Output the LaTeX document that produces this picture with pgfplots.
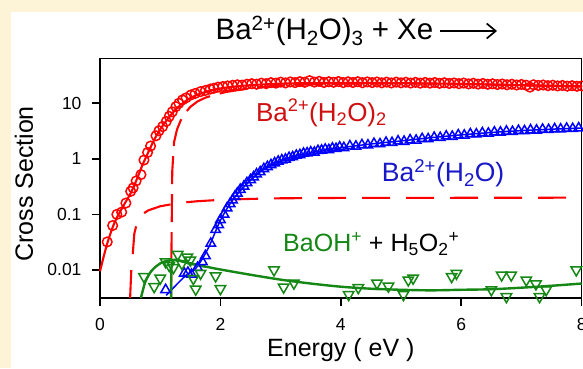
\documentclass[border=0pt]{standalone}
\usepackage{pgfplots}
\pgfplotsset{compat=1.18}
\usetikzlibrary{arrows.meta}
\usepackage{fontspec}
\setmainfont{Liberation Sans}
\definecolor{cream}{RGB}{253,243,214}
\definecolor{myred}{RGB}{255,0,0}
\definecolor{redtxt}{RGB}{208,16,16}
\definecolor{myblue}{RGB}{0,0,255}
\definecolor{bluetxt}{RGB}{24,24,200}
\definecolor{mygreen}{RGB}{20,135,20}
\newcommand{\sub}[1]{\textsubscript{#1}}
\newcommand{\sups}[1]{\textsuperscript{#1}}
\begin{document}
\begin{tikzpicture}[x=1pt,y=1pt]
\path[use as bounding box] (0,0) rectangle (583,368);
\fill[cream] (0,0) rectangle (583,368);
\fill[white] (11,0) rectangle (590,356);
\begin{axis}[at={(100pt,70pt)}, anchor=south west, scale only axis,
  width=481.7pt, height=239.7pt,
  xmin=0, xmax=8, ymode=log, ymin=0.00313, ymax=64.4,
  axis line style={line width=1.6pt},
  xtick={0,2,4,6,8}, ytick={0.01,0.1,1,10}, yticklabels={0.01,0.1,1,10},
  yminorticks=false, tick align=outside, tick pos=left, major tick length=8pt,
  every tick/.style={line width=1.6pt, black},
  ticklabel style={font=\fontsize{17.5}{20}\selectfont},
  xticklabel style={yshift=-9pt},
  yticklabel style={xshift=-7pt},
  /pgf/number format/assume math mode=true,
  xlabel={Energy ( eV )}, ylabel={Cross Section},
  label style={font=\fontsize{25}{29}\selectfont},
  xlabel style={at={(axis description cs:0.5,-0.246)}, anchor=base},
  ylabel style={at={(axis description cs:-0.158,0.476)}, anchor=center},
  title={Ba\sups{2+}(H\sub{2}O)\sub{3} + Xe},
  title style={font=\fontsize{29.5}{33}\selectfont, at={(axis description cs:0.466,1.0515)}, anchor=base, inner sep=0pt},
  clip=false,
]
% red dashed A
\addplot[myred, line width=2.1pt, dash pattern=on 28pt off 16pt] coordinates {
(0.50,0.00313) (0.52,0.01) (0.54,0.017) (0.57,0.045) (0.62,0.075) (0.70,0.10) (0.80,0.118) (1.0,0.14) (1.3,0.16) (1.6,0.172) (2.0,0.183) (2.5,0.19) (3.0,0.195) (4.0,0.198) (8.0,0.2)};
% red dashed B
\addplot[myred, line width=2.1pt, dash pattern=on 28pt off 10pt] coordinates {
(1.18,0.00313) (1.19,0.05) (1.20,0.6) (1.23,2.0) (1.28,3.4) (1.34,4.9) (1.42,6.8) (1.50,8.6) (1.62,10.8) (1.75,12.6) (1.9,14.2) (2.1,16.0) (2.4,18.0) (2.8,20.0) (3.3,21.5) (4.0,22.5) (5.0,22.8) (6.0,22.2) (7.0,21.0) (8.0,20.0)};
% red solid fit
\addplot[myred, line width=2.1pt, smooth] coordinates {
(0.0,0.0095) (0.12,0.03) (0.25,0.075) (0.4,0.15) (0.5,0.23) (0.6,0.4) (0.7,0.75) (0.8,1.3) (0.9,2.2) (1.0,3.4) (1.1,4.8) (1.2,6.6) (1.3,8.6) (1.45,11.5) (1.6,14.0) (1.8,16.6) (2.0,18.5) (2.3,20.3) (2.7,21.8) (3.2,22.8) (4.0,23.2) (5.0,23.0) (6.0,22.3) (7.0,21.2) (8.0,20.2)};
% red circles
\addplot[only marks, mark=o, mark size=4.8pt, myred, line width=1.5pt] coordinates {
(0.12,0.032) (0.21,0.063) (0.28,0.10) (0.36,0.11) (0.43,0.16) (0.51,0.26) (0.55,0.30) (0.60,0.40) (0.68,0.52) (0.73,0.95) (0.79,1.3) (0.84,1.7) (0.93,2.6) (0.98,3.2) (1.04,3.8) (1.10,4.7) (1.15,5.8) (1.20,7.0) (1.26,8.7) (1.31,10.0) (1.37,11.5) (1.43,12.5) (1.51,14.1) (1.58,15.0) (1.67,16.2) (1.75,17.0) (1.83,18.0) (1.89,18.6) (1.96,19.5) (2.04,20.0) (2.12,20.5) (2.20,21.0) (2.28,21.5) (2.36,21.2) (2.44,22.0) (2.52,22.5) (2.60,22.0) (2.68,23.0) (2.76,22.5) (2.84,23.5) (2.92,23.0) (3.00,24.0) (3.08,23.2) (3.16,24.2) (3.24,23.5) (3.32,24.5) (3.40,23.8) (3.48,25.5) (3.56,24.0) (3.64,24.8) (3.72,23.6) (3.80,24.4) (3.88,23.8) (3.96,24.6) (4.04,23.5) (4.12,24.3) (4.20,23.6) (4.28,24.4) (4.36,23.4) (4.44,24.2) (4.52,23.5) (4.60,24.1) (4.68,23.3) (4.76,24.0) (4.84,23.2) (4.92,24.0) (5.00,23.3) (5.08,23.9) (5.16,23.1) (5.24,23.8) (5.32,23.0) (5.40,23.7) (5.48,23.0) (5.56,23.6) (5.64,22.8) (5.72,23.4) (5.80,22.7) (5.88,23.2) (5.96,22.5) (6.04,23.1) (6.12,22.3) (6.20,22.9) (6.28,22.1) (6.36,22.7) (6.44,21.9) (6.52,22.4) (6.60,21.7) (6.68,22.2) (6.76,21.5) (6.84,22.0) (6.92,21.3) (7.00,21.8) (7.08,21.1) (7.14,19.5) (7.20,21.5) (7.28,20.9) (7.36,21.3) (7.44,20.7) (7.52,21.1) (7.60,20.5) (7.68,20.9) (7.76,20.3) (7.84,20.7) (7.92,20.2) (8.00,20.5)};
% blue fit
\addplot[myblue, line width=1.5pt, smooth] coordinates {
(1.10,0.0035) (1.4,0.0075) (1.6,0.011) (1.8,0.025) (2.0,0.078) (2.2,0.18) (2.4,0.32) (2.6,0.52) (2.8,0.74) (3.0,0.92) (3.3,1.15) (3.6,1.35) (4.0,1.58) (4.5,1.85) (5.0,2.1) (5.5,2.4) (6.0,2.7) (6.5,2.98) (7.0,3.22) (7.5,3.42) (8.0,3.58)};
% blue triangles
\addplot[only marks, mark=triangle, mark size=5.5pt, myblue, line width=1.5pt] coordinates {
(1.09,0.0044) (1.40,0.0087) (1.46,0.0090) (1.52,0.0083) (1.62,0.011) (1.70,0.014) (1.75,0.018) (1.84,0.030) (1.92,0.053) (1.97,0.065) (2.00,0.080) (2.06,0.10) (2.11,0.13) (2.16,0.155) (2.20,0.18) (2.24,0.21) (2.28,0.24) (2.33,0.28) (2.39,0.32) (2.44,0.37) (2.50,0.42) (2.55,0.47) (2.60,0.53) (2.66,0.58) (2.72,0.66) (2.78,0.72) (2.84,0.78) (2.90,0.84) (2.96,0.90) (3.02,0.95) (3.08,0.98) (3.14,1.05) (3.20,1.08) (3.26,1.15) (3.32,1.18) (3.38,1.25) (3.44,1.27) (3.50,1.32) (3.56,1.30) (3.62,1.40) (3.68,1.42) (3.74,1.48) (3.80,1.45) (3.86,1.55) (3.92,1.52) (3.98,1.62) (4.05,1.58) (4.15,1.70) (4.25,1.68) (4.35,1.78) (4.45,1.76) (4.55,1.88) (4.65,1.85) (4.75,1.97) (4.85,1.95) (4.95,2.08) (5.05,2.05) (5.15,2.18) (5.25,2.15) (5.35,2.30) (5.45,2.28) (5.55,2.42) (5.65,2.40) (5.75,2.55) (5.85,2.52) (5.95,2.68) (6.05,2.65) (6.15,2.80) (6.25,2.78) (6.35,2.92) (6.45,2.88) (6.55,3.02) (6.65,3.00) (6.75,3.12) (6.85,3.08) (6.95,3.22) (7.05,3.18) (7.15,3.30) (7.25,3.26) (7.35,3.38) (7.45,3.34) (7.55,3.45) (7.65,3.42) (7.75,3.52) (7.85,3.48) (7.95,3.58)};
% green fits
\addplot[mygreen, line width=2.4pt, smooth] coordinates {
(0.68,0.00313) (0.75,0.006) (0.85,0.0095) (0.95,0.012) (1.05,0.014) (1.18,0.015) (1.3,0.0148) (1.5,0.013) (1.75,0.0115) (2.0,0.0102) (2.5,0.0082) (3.0,0.0067) (3.5,0.0057) (4.0,0.0050) (4.5,0.0046) (5.0,0.0044) (5.5,0.0043) (6.0,0.0044) (6.5,0.0045) (7.0,0.0048) (7.5,0.0052) (8.0,0.0057)};
\addplot[mygreen, line width=2.4pt] coordinates {
(1.18,0.00313) (1.185,0.011) (1.21,0.0150) (1.26,0.0153) (1.35,0.0145) (1.5,0.0132) (1.75,0.0115)};
% green triangles
\addplot[only marks, mark=triangle, mark options={rotate=180}, mark size=6pt, mygreen, line width=1.5pt] coordinates {
(0.73,0.0076) (0.90,0.005) (1.00,0.0071) (1.09,0.014) (1.15,0.012) (1.22,0.011) (1.29,0.019) (1.36,0.013) (1.45,0.017) (1.50,0.015) (1.55,0.0070) (1.59,0.0045) (1.67,0.0087) (1.92,0.0078) (2.00,0.0046) (2.89,0.010) (3.05,0.0049) (3.22,0.0058) (4.13,0.0036) (4.29,0.0048) (4.60,0.0058) (4.79,0.0051) (5.04,0.0036) (5.12,0.0066) (5.20,0.0071) (5.84,0.0076) (5.92,0.0087) (6.50,0.0044) (6.67,0.0081) (6.75,0.0033) (6.83,0.0081) (7.08,0.0066) (7.24,0.0056) (7.30,0.0033) (7.41,0.0044) (7.91,0.010)};
% labels
\node[anchor=base west, text=redtxt, font=\fontsize{26}{30}\selectfont, inner sep=0pt] at (axis cs:2.59,4.79) {Ba\sups{2+}(H\sub{2}O)\sub{2}};
\node[anchor=base west, text=bluetxt, font=\fontsize{26.5}{30}\selectfont, inner sep=0pt] at (axis cs:4.68,0.387) {Ba\sups{2+}(H\sub{2}O)};
\node[anchor=base west, font=\fontsize{25}{29}\selectfont, inner sep=0pt] at (axis cs:3.04,0.0213) {\textcolor{mygreen}{BaOH\sups{+}} + H\sub{5}O\sub{2}\sups{+}};
\end{axis}
% title arrow
\draw[line width=1.7pt, -{Straight Barb[length=9pt,width=15pt,line width=1.7pt]}] (440,337) -- (497,337);
\end{tikzpicture}
\end{document}
